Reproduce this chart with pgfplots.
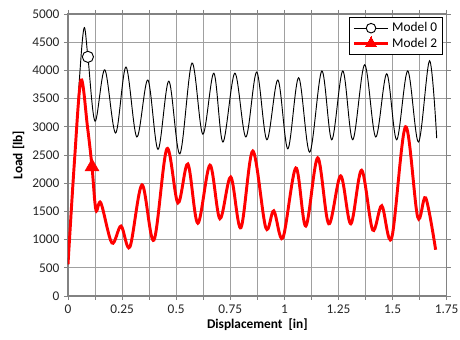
\documentclass[border=0pt]{standalone}
\usepackage{pgfplots}
\pgfplotsset{compat=1.18}
\usepackage{fontspec}
\setmainfont{Carlito}
\definecolor{gridgray}{RGB}{160,160,160}
\definecolor{axgray}{RGB}{130,130,130}
\begin{document}
\begin{tikzpicture}
\begin{axis}[
  scale only axis,
  width=284pt, height=211.5pt,
  xmin=0, xmax=1.75, ymin=0, ymax=5000,
  xtick={0,0.25,0.5,0.75,1,1.25,1.5,1.75},
  xticklabels={0,0.25,0.5,0.75,1,1.25,1.5,1.75},
  minor xtick={0.125,0.375,0.625,0.875,1.125,1.375,1.625},
  ytick={0,500,...,5000},
  /pgf/number format/1000 sep={},
  /pgf/number format/assume math mode=true,
  xmajorgrids, ymajorgrids, xminorgrids,
  grid style={gridgray, line width=0.6pt},
  minor grid style={gridgray, line width=0.6pt},
  axis line style={axgray, line width=0.8pt},
  tick align=outside,
  major tick length=3pt,
  minor tick length=3pt,
  tick style={axgray, line width=0.6pt},
  every tick label/.append style={font=\fontsize{10}{12}\selectfont, text=black!85},
  xlabel={\textbf{Displacement\ \ [in]}},
  ylabel={\textbf{Load [lb]}},
  label style={font=\fontsize{10}{12}\selectfont},
  xlabel style={yshift=3pt},
  ylabel style={yshift=-1pt},
  legend style={at={(rel axis cs:0.99,0.99)}, anchor=north east, draw=black, line width=0.6pt,
    font=\fontsize{10}{12}\selectfont, inner sep=2pt, row sep=-1pt, fill=white},
  legend cell align=left,
  legend image code/.code={\draw[mark repeat=2,mark phase=2,#1] plot coordinates {(0cm,0cm) (0.45cm,0cm) (0.9cm,0cm)};},
  clip=true,
]
\addplot[black, line width=0.7pt, smooth, tension=0.55, forget plot] coordinates {
(0,560) (0.03,2300) (0.052,3800) (0.074,4750) (0.092,4240)
(0.125,3100) (0.17,4010) (0.22,2890) (0.268,4060) (0.318,2820) (0.369,3830)
(0.416,2600) (0.466,3810) (0.517,2520) (0.573,4130) (0.623,2870) (0.674,3950)
(0.716,2730) (0.771,3950) (0.822,2820) (0.872,3970) (0.919,2770) (0.970,3830)
(1.016,2610) (1.066,3870) (1.117,2550) (1.173,3990) (1.219,2770) (1.27,3990)
(1.316,2770) (1.371,4100) (1.422,2820) (1.473,3940) (1.519,2770) (1.57,3990)
(1.62,2730) (1.671,4170) (1.704,2800)
};
\addplot[red, line width=2.2pt, smooth, tension=0.55, forget plot] coordinates {
(0,560) (0.03,2400) (0.06,3830) (0.09,3000) (0.111,2290) (0.129,1525)
(0.152,1650) (0.203,940) (0.245,1240) (0.286,870) (0.342,1970) (0.397,990)
(0.457,2610) (0.508,1650) (0.554,2340) (0.600,1290) (0.656,2320) (0.702,1370)
(0.752,2110) (0.799,1210) (0.854,2570) (0.914,1210) (0.951,1510) (0.993,1030)
(1.053,2270) (1.099,1240) (1.154,2450) (1.205,1280) (1.26,2130) (1.307,1280)
(1.357,2230) (1.408,1170) (1.45,1600) (1.496,1030) (1.56,3000) (1.616,1400)
(1.653,1740) (1.699,820)
};
\addplot[only marks, mark=*, mark size=4.2pt, mark options={fill=white, draw=black, line width=0.7pt}, forget plot] coordinates {(0.092,4240)};
\addplot[only marks, mark=triangle*, mark size=6pt, mark options={fill=red, draw=red}, forget plot] coordinates {(0.111,2290)};
\addlegendimage{black, line width=0.7pt, mark=*, mark size=3.6pt, mark options={fill=white, draw=black, line width=0.7pt}}
\addlegendentry{Model 0}
\addlegendimage{red, line width=2.2pt, mark=triangle*, mark size=5pt, mark options={fill=red, draw=red, line width=0pt}}
\addlegendentry{Model 2}
\end{axis}
\pgfresetboundingbox
\path (current axis.south west) +(-51pt,-33pt) (current axis.north east) +(10pt,10.5pt);
\end{tikzpicture}
\end{document}
